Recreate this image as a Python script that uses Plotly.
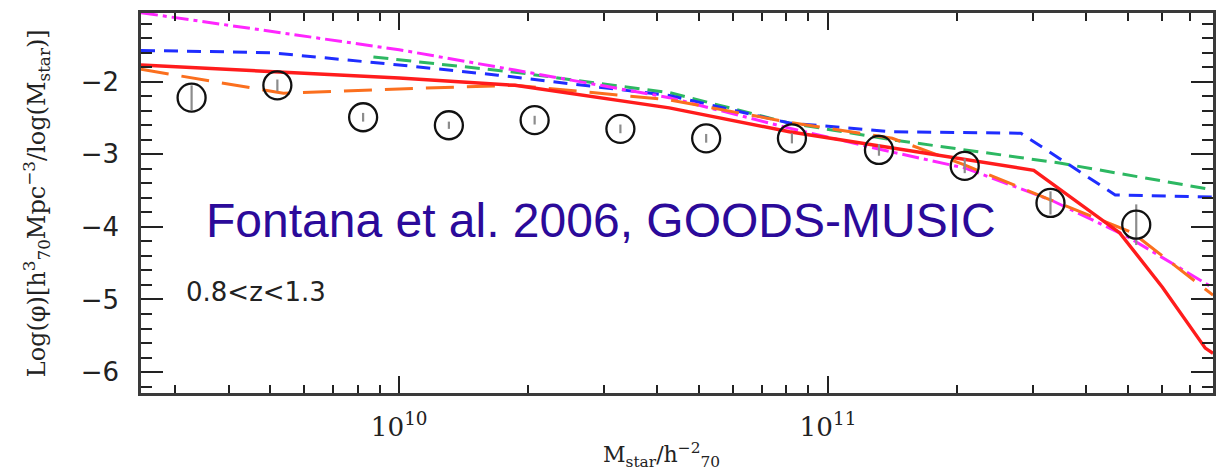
import numpy as np
import plotly.graph_objects as go

# Observed stellar mass function, 0.8 < z < 1.3
log_mass_obs = [9.516, 9.716, 9.916, 10.116, 10.316, 10.516, 10.716, 10.916, 11.119, 11.319, 11.519, 11.719]
log_phi_obs = [-2.22, -2.05, -2.49, -2.60, -2.53, -2.65, -2.78, -2.78, -2.94, -3.16, -3.67, -3.97]
log_phi_err = [0.17, 0.08, 0.06, 0.05, 0.06, 0.06, 0.06, 0.07, 0.08, 0.10, 0.16, 0.28]

# Model curves
red_logm = [9.398, 10.0, 10.27, 10.63, 10.91, 11.15, 11.48, 11.68, 11.78, 11.88, 11.898]
red_phi = [-1.77, -1.95, -2.05, -2.36, -2.69, -2.91, -3.22, -4.08, -4.83, -5.67, -5.74]

orange_logm = [9.398, 9.73, 10.0, 10.27, 10.63, 10.91, 11.15, 11.32, 11.52, 11.71, 11.898]
orange_phi = [-1.83, -2.16, -2.10, -2.05, -2.25, -2.56, -2.78, -3.15, -3.63, -4.08, -4.94]

magenta_logm = [9.398, 10.0, 10.27, 10.63, 10.91, 11.15, 11.32, 11.52, 11.70, 11.898]
magenta_phi = [-1.05, -1.56, -1.84, -2.22, -2.64, -2.97, -3.19, -3.63, -4.14, -4.84]

blue_logm = [9.398, 9.70, 10.0, 10.23, 10.63, 10.91, 11.15, 11.45, 11.67, 11.898]
blue_phi = [-1.57, -1.60, -1.77, -1.91, -2.19, -2.57, -2.69, -2.71, -3.56, -3.59]

green_logm = [9.94, 10.0, 10.27, 10.63, 10.91, 11.15, 11.54, 11.898]
green_phi = [-1.66, -1.70, -1.87, -2.15, -2.57, -2.80, -3.12, -3.49]

x_range_log = [9.398, 11.898]
y_range = [-6.288, -1.054]

curves = [
    (green_logm, green_phi, "#2db862", 3, "15px,8px"),
    (blue_logm, blue_phi, "#1f2dff", 3, "14px,9px"),
    (magenta_logm, magenta_phi, "#ff26ff", 3, "17px,5px,4px,5px"),
    (orange_logm, orange_phi, "#fb6f1e", 3, "28px,13px"),
    (red_logm, red_phi, "#ff1c1c", 3.4, "solid"),
]

fig = go.Figure()

for logm, phi, color, width, dash in curves:
    fig.add_trace(go.Scatter(
        x=10 ** np.array(logm), y=phi, mode="lines",
        line=dict(color=color, width=width, dash=dash),
        showlegend=False, hoverinfo="skip",
    ))

fig.add_trace(go.Scatter(
    x=10 ** np.array(log_mass_obs), y=log_phi_obs, mode="markers",
    marker=dict(symbol="circle-open", size=28, color="#111111", line=dict(width=2.3, color="#111111")),
    error_y=dict(type="data", array=log_phi_err, color="#8c8c8c", thickness=2.2, width=0),
    showlegend=False,
))

axis_common = dict(
    showline=True, linecolor="#3a3a3a", linewidth=2.5, mirror="ticks",
    ticks="inside", tickcolor="#222222", tickwidth=2, showgrid=False, zeroline=False,
)

fig.update_xaxes(
    type="log", range=x_range_log, dtick=1, exponentformat="power",
    ticklen=17, ticklabelstandoff=10,
    tickfont=dict(family="DejaVu Serif", size=21, color="#222222"),
    minor=dict(ticks="inside", ticklen=8, tickwidth=2, tickcolor="#222222", dtick="D1", showgrid=False),
    **axis_common,
)
fig.update_yaxes(
    range=y_range, dtick=1, tick0=0,
    ticklen=22, ticklabelstandoff=14,
    tickfont=dict(family="DejaVu Sans", size=26, color="#222222"),
    minor=dict(ticks="inside", ticklen=11, tickwidth=2, tickcolor="#222222", dtick=0.2, showgrid=False),
    **axis_common,
)

fig.add_annotation(
    text="Fontana et al. 2006, GOODS-MUSIC", xref="paper", yref="paper",
    x=0.0585, y=0.455, xanchor="left", yanchor="middle", showarrow=False,
    font=dict(family="Liberation Sans", size=48, color="#2b0a9a"),
)
fig.add_annotation(
    text="0.8&lt;z&lt;1.3", xref="paper", yref="paper",
    x=0.040, y=0.266, xanchor="left", yanchor="middle", showarrow=False,
    font=dict(family="DejaVu Sans", size=26, color="#222222"),
)
fig.add_annotation(
    text="Log(φ)[h<sup>3</sup><sub>70</sub>Mpc<sup>−3</sup>/log(M<sub>star</sub>)]",
    xref="paper", yref="paper", x=-(141 - 36) / 1075, y=0.5,
    xanchor="center", yanchor="middle", textangle=-90, showarrow=False,
    font=dict(family="DejaVu Serif", size=24, color="#222222"),
)
fig.add_annotation(
    text="M<sub>star</sub>/h<sup>−2</sup><sub>70</sub>",
    xref="paper", yref="paper", x=0.486, y=-0.163,
    xanchor="center", yanchor="middle", showarrow=False,
    font=dict(family="DejaVu Serif", size=22, color="#222222"),
)

fig.update_layout(
    width=1216, height=471,
    margin=dict(l=141, r=0, t=13, b=78),
    paper_bgcolor="white", plot_bgcolor="white",
)

fig.write_html("out.html")
